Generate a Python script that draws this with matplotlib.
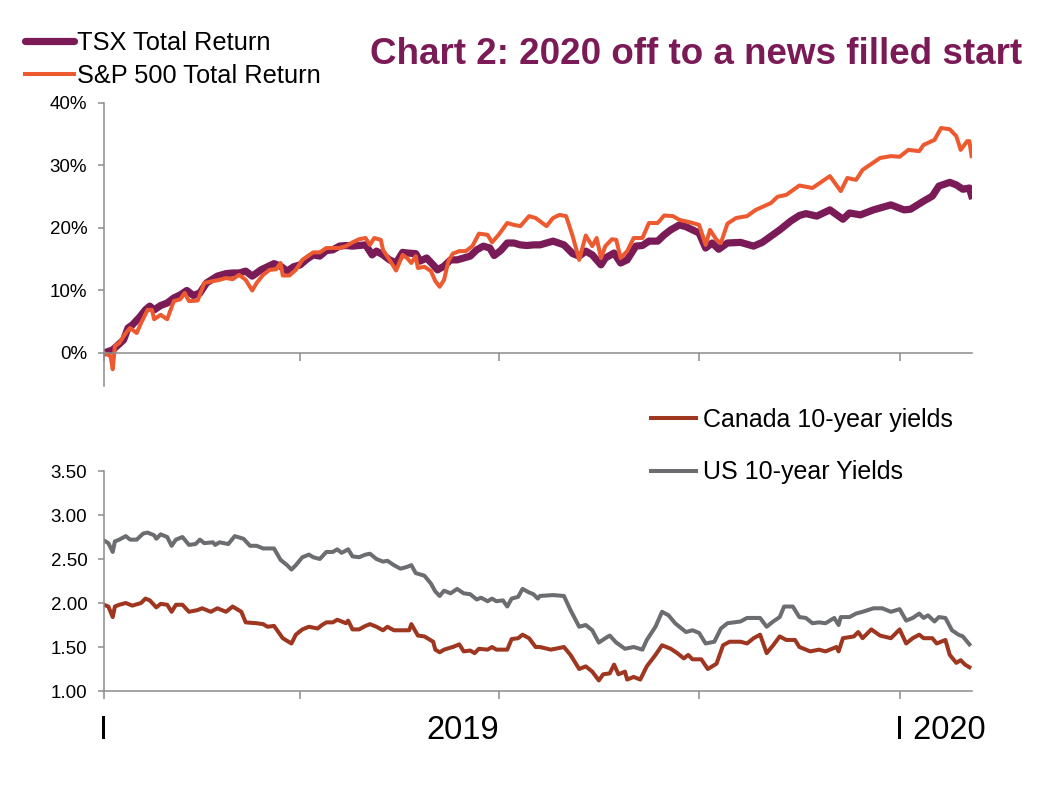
import matplotlib
matplotlib.use('Agg')
import matplotlib.pyplot as plt
import matplotlib.dates as mdates
from matplotlib.ticker import PercentFormatter, FormatStrFormatter
from matplotlib.lines import Line2D
import pandas as pd

# days counted from 2019-01-01
start = pd.Timestamp('2019-01-01')

tsx_days = [0, 4, 9, 11, 13, 16, 19, 21, 23, 26, 29, 32, 35, 38, 41, 44, 47, 52, 56, 59,
            62, 65, 68, 72, 75, 78, 81, 84, 87, 90, 93, 96, 99, 102, 105, 108, 111, 114, 117, 120,
            123, 125, 128, 131, 134, 137, 139, 143, 145, 148, 151, 153, 156, 159, 162, 165, 168, 171, 174, 177,
            179, 182, 185, 188, 191, 194, 197,
            200, 206, 211, 215, 218, 221, 224, 228, 230, 234, 237, 240, 244, 247, 250, 254, 257, 260, 264, 267,
            270, 273, 276, 279, 282, 286, 292, 298, 302, 306, 310, 315, 319, 322, 327, 333, 339, 342, 347, 353,
            361, 367, 370, 376, 380, 383, 388, 391, 394, 397, 398]
tsx = [0, 0.5, 2.1, 4.0, 4.5, 5.6, 6.9, 7.5, 6.9, 7.6, 8.0, 8.8, 9.3, 10.0, 9.2, 9.6, 11.2, 12.3, 12.7, 12.8,
       12.8, 13.1, 12.3, 13.3, 13.8, 14.3, 13.9, 13.1, 13.8, 14.1, 15.0, 15.7, 15.5, 16.4, 16.5, 17.1, 17.2, 17.1, 17.2, 17.3,
       15.7, 16.3, 15.7, 14.9, 14.4, 16.1, 16.0, 15.9, 14.7, 15.2, 14.1, 13.3, 13.9, 14.9, 14.9, 15.2, 15.5, 16.5, 17.1, 16.8,
       15.6, 16.4, 17.6, 17.6, 17.3, 17.2, 17.3,
       17.3, 17.9, 17.3, 15.9, 15.5, 16.3, 15.7, 14.1, 15.2, 16.0, 14.4, 14.9, 17.1, 17.2, 17.9, 17.9, 18.9, 19.7, 20.5, 20.2,
       19.7, 19.2, 16.8, 17.6, 16.6, 17.6, 17.7, 17.1, 17.7, 18.7, 19.7, 21.1, 22.0, 22.3, 21.9, 22.9, 21.4, 22.4, 22.1, 22.9,
       23.7, 22.9, 23.0, 24.3, 25.1, 26.7, 27.3, 26.9, 26.2, 26.4, 25.2]

spx_days = [0, 3, 4, 5, 7, 10, 12, 15, 17, 20, 22, 23, 26, 29, 32, 35, 37, 39, 43, 46,
            50, 53, 56, 59, 62, 65, 68, 70, 73, 76, 79, 81, 82, 85, 88, 91, 96, 99, 102, 105,
            108, 111, 114, 117, 120, 122, 124, 127, 128, 131, 134, 137, 139, 141, 143, 144, 147, 150, 152, 154,
            156, 158, 160, 163, 166, 169, 172, 176, 178, 181, 185, 188, 191, 195, 198,
            203, 206, 209, 212, 215, 218, 221, 224, 226, 228, 230, 233, 235, 237, 240, 243, 247, 250, 254, 257,
            261, 264, 269, 273, 276, 278, 281, 283, 286, 290, 295, 299, 306, 309, 313, 319, 325, 333, 338, 341,
            345, 348, 356, 361, 365, 369, 374, 376, 381, 384, 388, 391, 393, 396, 397, 398]
spx = [0, -0.5, -2.6, 1.1, 1.6, 3.2, 4.0, 3.2, 4.8, 6.9, 6.9, 5.4, 6.1, 5.4, 8.3, 8.6, 9.6, 8.3, 8.4, 11.2,
       11.5, 11.7, 12.0, 11.8, 12.5, 11.7, 10.0, 11.2, 12.5, 13.3, 13.4, 14.4, 12.4, 12.4, 13.3, 14.9, 16.1, 16.1, 16.8, 16.8,
       16.8, 17.1, 17.7, 18.2, 18.4, 17.3, 18.4, 18.1, 16.5, 14.9, 13.2, 15.7, 15.2, 14.4, 15.5, 13.6, 13.8, 13.1, 11.5, 10.6,
       11.7, 14.7, 15.9, 16.3, 16.3, 17.1, 19.1, 18.9, 17.7, 18.9, 20.8, 20.5, 20.3, 21.9, 21.6,
       20.3, 21.6, 22.1, 21.9, 18.7, 14.9, 18.8, 17.1, 18.4, 15.2, 17.1, 18.2, 18.1, 15.2, 16.3, 18.4, 18.4, 20.8, 20.8, 22.0,
       21.9, 21.3, 20.9, 20.5, 17.3, 19.7, 18.1, 17.6, 20.7, 21.6, 21.9, 22.9, 24.0, 25.0, 25.3, 26.8, 26.4, 28.3, 25.9, 28.0,
       27.7, 29.3, 31.2, 31.5, 31.4, 32.5, 32.3, 33.3, 34.1, 36.0, 35.8, 34.7, 32.5, 33.9, 33.9, 31.5]

can_days = [0, 2, 4, 5, 7, 10, 13, 17, 19, 21, 24, 26, 29, 31, 33, 36, 39, 43, 45, 49,
            52, 56, 59, 63, 65, 70, 73, 75, 78, 82, 84, 86, 88, 91, 94, 98, 100, 102, 105, 107,
            111, 112, 114, 117, 120, 122, 125, 128, 130, 133, 136, 140, 141, 144, 147, 151, 152, 154, 156, 160,
            163, 165, 168, 170, 172, 176, 178, 180, 185, 187, 190, 192, 195, 198,
            200, 205, 211, 214, 218, 221, 224, 227, 229, 232, 234, 236, 239, 240, 243, 246, 249, 253, 256, 260,
            263, 266, 268, 270, 274, 277, 281, 284, 287, 292, 295, 298, 301, 304, 307, 310, 313, 317, 319, 324,
            328, 331, 336, 337, 339, 344, 346, 348, 352, 356, 361, 365, 368, 371, 374, 376, 380, 382, 386, 388,
            391, 393, 395, 397]
can = [1.98, 1.96, 1.84, 1.96, 1.98, 2.00, 1.97, 2.00, 2.05, 2.03, 1.95, 1.99, 1.98, 1.90, 1.98, 1.98, 1.90, 1.92, 1.94, 1.90,
       1.94, 1.90, 1.96, 1.90, 1.78, 1.77, 1.76, 1.73, 1.74, 1.60, 1.57, 1.54, 1.64, 1.70, 1.73, 1.71, 1.75, 1.78, 1.78, 1.81,
       1.77, 1.80, 1.70, 1.70, 1.74, 1.76, 1.73, 1.69, 1.73, 1.69, 1.69, 1.69, 1.76, 1.63, 1.62, 1.56, 1.47, 1.44, 1.47, 1.50,
       1.53, 1.45, 1.46, 1.43, 1.48, 1.47, 1.50, 1.47, 1.47, 1.59, 1.60, 1.64, 1.60, 1.50,
       1.50, 1.47, 1.50, 1.41, 1.25, 1.28, 1.22, 1.12, 1.19, 1.20, 1.30, 1.19, 1.22, 1.13, 1.16, 1.13, 1.28, 1.41, 1.52, 1.48,
       1.43, 1.37, 1.41, 1.36, 1.36, 1.25, 1.31, 1.52, 1.56, 1.56, 1.54, 1.60, 1.64, 1.43, 1.52, 1.62, 1.58, 1.58, 1.50, 1.45,
       1.47, 1.45, 1.50, 1.45, 1.60, 1.62, 1.67, 1.60, 1.70, 1.63, 1.60, 1.70, 1.54, 1.60, 1.64, 1.60, 1.60, 1.54, 1.58, 1.41,
       1.32, 1.35, 1.30, 1.27]

us_days = [0, 2, 4, 5, 7, 10, 12, 15, 18, 20, 23, 24, 26, 29, 31, 33, 36, 39, 42, 44,
           46, 50, 51, 53, 57, 60, 64, 67, 70, 73, 78, 81, 84, 86, 88, 91, 94, 96, 99, 102,
           105, 107, 109, 112, 114, 117, 120, 122, 125, 128, 130, 133, 136, 139, 141, 143, 147, 150, 152, 154,
           156, 159, 162, 165, 168, 171, 173, 176, 178, 180, 183, 185, 187, 190, 192, 195, 197, 199,
           200, 206, 211, 214, 218, 221, 224, 227, 230, 232, 235, 239, 243, 247, 249, 253, 256, 259, 262, 264,
           267, 270, 273, 276, 280, 283, 286, 289, 292, 295, 298, 301, 304, 307, 310, 312, 316, 319, 322, 325,
           328, 331, 335, 337, 338, 342, 345, 348, 353, 357, 361, 365, 368, 371, 374, 376, 378, 381, 383, 386,
           389, 392, 394, 397]
us = [2.71, 2.68, 2.58, 2.70, 2.72, 2.76, 2.72, 2.72, 2.79, 2.80, 2.77, 2.73, 2.78, 2.75, 2.65, 2.72, 2.75, 2.66, 2.67, 2.72,
      2.68, 2.69, 2.66, 2.69, 2.67, 2.76, 2.73, 2.65, 2.65, 2.62, 2.62, 2.49, 2.43, 2.38, 2.43, 2.52, 2.55, 2.52, 2.50, 2.58,
      2.58, 2.61, 2.57, 2.61, 2.53, 2.52, 2.55, 2.56, 2.50, 2.47, 2.48, 2.43, 2.39, 2.41, 2.43, 2.34, 2.31, 2.22, 2.13, 2.08,
      2.14, 2.11, 2.16, 2.11, 2.10, 2.04, 2.06, 2.02, 2.05, 2.02, 2.03, 1.96, 2.05, 2.07, 2.16, 2.12, 2.10, 2.05,
      2.08, 2.09, 2.08, 1.92, 1.73, 1.75, 1.69, 1.55, 1.60, 1.63, 1.55, 1.48, 1.50, 1.47, 1.58, 1.73, 1.90, 1.86, 1.77, 1.73,
      1.67, 1.69, 1.66, 1.54, 1.56, 1.71, 1.77, 1.78, 1.79, 1.83, 1.83, 1.83, 1.73, 1.79, 1.84, 1.96, 1.96, 1.84, 1.83, 1.77,
      1.78, 1.77, 1.83, 1.75, 1.84, 1.84, 1.88, 1.90, 1.94, 1.94, 1.90, 1.93, 1.80, 1.83, 1.88, 1.83, 1.86, 1.79, 1.84, 1.83,
      1.69, 1.64, 1.62, 1.53]

ret_ticks = [0, 10, 20, 30, 40]
yld_ticks = [1.0, 1.5, 2.0, 2.5, 3.0, 3.5]
quarter_ticks = ['2019-01-01', '2019-04-01', '2019-07-01', '2019-10-01', '2020-01-01']


def to_dates(days):
    return start + pd.to_timedelta(days, unit='D')


PURPLE = '#7A1A57'
ORANGE = '#EE5A30'
RED = '#9E3620'
GREY = '#6B6D70'
AXIS = '#8C8C8C'

plt.rcParams['font.family'] = ['Liberation Sans', 'DejaVu Sans']

W, H = 1054, 790
fig = plt.figure(figsize=(W / 100, H / 100), dpi=100)

x0, x1 = start, start + pd.Timedelta(days=398.2)

# ---- top panel: total returns
ax1 = fig.add_axes([104 / W, 1 - 386 / H, 868 / W, 283 / H])
ax1.plot(to_dates(tsx_days), tsx, color=PURPLE, lw=5.2, solid_joinstyle='round', label='TSX Total Return')
ax1.plot(to_dates(spx_days), spx, color=ORANGE, lw=2.9, solid_joinstyle='round', label='S&P 500 Total Return')
ax1.set_xlim(x0, x1)
ax1.set_ylim(-5.28, 40)
ax1.set_yticks(ret_ticks)
ax1.yaxis.set_major_formatter(PercentFormatter(decimals=0))
ax1.spines['bottom'].set_position(('data', 0))

# ---- bottom panel: yields
ax2 = fig.add_axes([104 / W, 1 - 691 / H, 868 / W, 220 / H])
ax2.plot(to_dates(can_days), can, color=RED, lw=2.9, solid_joinstyle='round', label='Canada 10-year yields')
ax2.plot(to_dates(us_days), us, color=GREY, lw=2.9, solid_joinstyle='round', label='US 10-year Yields')
ax2.set_xlim(x0, x1)
ax2.set_ylim(1.0, 3.5)
ax2.set_yticks(yld_ticks)
ax2.yaxis.set_major_formatter(FormatStrFormatter('%.2f'))

for ax in (ax1, ax2):
    for s in ('top', 'right'):
        ax.spines[s].set_visible(False)
    for s in ('left', 'bottom'):
        ax.spines[s].set_color(AXIS)
        ax.spines[s].set_linewidth(1.1)
    ax.set_xticks(pd.to_datetime(quarter_ticks))
    ax.xaxis.set_major_formatter(plt.NullFormatter())
    ax.tick_params(axis='x', direction='out', length=6, width=1.1, color=AXIS)
    ax.tick_params(axis='y', direction='out', length=4, width=1.1, color=AXIS,
                   labelsize=13.5, pad=8, labelcolor='black')
    ax.set_facecolor('none')

# x labels (Excel style)
lab_kw = dict(transform=ax2.get_xaxis_transform(), fontsize=23.5, va='baseline')
ax2.text(mdates.date2num(pd.Timestamp('2019-01-01')), -0.22, 'I', ha='center', **lab_kw)
ax2.text(mdates.date2num(pd.Timestamp('2019-07-01')), -0.22, '2019', ha='right', **lab_kw)
ax2.text(mdates.date2num(pd.Timestamp('2020-01-01')) - 2, -0.22, 'I 2020', ha='left', **lab_kw)

# legends
top_handles = [Line2D([], [], color=PURPLE, lw=5.2, solid_capstyle='round'),
               Line2D([], [], color=ORANGE, lw=2.9)]
fig.legend(top_handles, ['TSX Total Return', 'S&P 500 Total Return'],
           loc='upper left', bbox_to_anchor=(12 / W, 1 - 18 / H), frameon=False,
           fontsize=18.3, handlelength=1.95, handletextpad=0.12, labelspacing=0.38, borderpad=0)

bot_handles = [Line2D([], [], color=RED, lw=2.9), Line2D([], [], color=GREY, lw=2.9)]
fig.legend(bot_handles, ['Canada 10-year yields', 'US 10-year Yields'],
           loc='upper left', bbox_to_anchor=(638 / W, 1 - 395 / H), frameon=False,
           fontsize=18, handlelength=1.8, handletextpad=0.3, labelspacing=1.15, borderpad=0)

fig.text(1022 / W, 1 - 64 / H, 'Chart 2: 2020 off to a news filled start', ha='right', va='baseline',
         fontsize=26.5, fontweight='bold', color=PURPLE)

fig.savefig('out.png', dpi=100, facecolor='white')
